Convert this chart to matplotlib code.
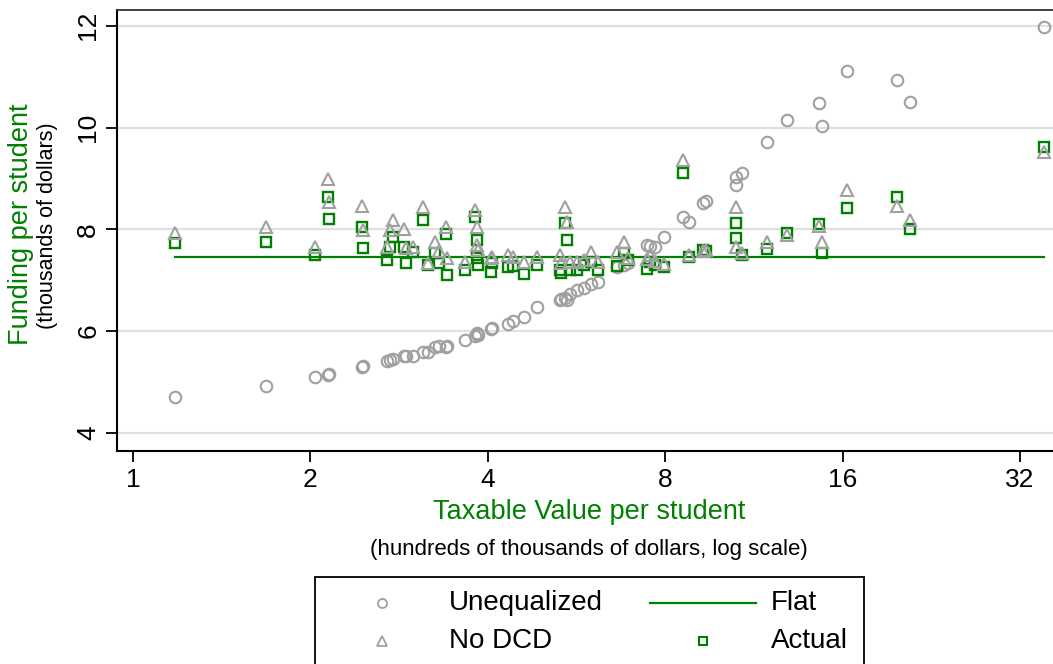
import matplotlib
matplotlib.use("Agg")
import matplotlib.pyplot as plt
from matplotlib.lines import Line2D
from matplotlib.patches import Rectangle
import numpy as np

plt.rcParams['font.family'] = ['Liberation Sans', 'DejaVu Sans']

# ---- data (taxable value per student, hundreds of thousands $) ----
taxable_value = [1.18, 1.68, 2.04, 2.14, 2.15, 2.45, 2.46, 2.70, 2.73, 2.76,
                 2.88, 2.90, 2.99, 3.10, 3.16, 3.26, 3.31, 3.40, 3.41, 3.66,
                 3.81, 3.83, 3.84, 3.85, 4.05, 4.07, 4.33, 4.42, 4.60, 4.84,
                 5.31, 5.33, 5.40, 5.45, 5.52, 5.67, 5.82, 5.98, 6.15, 6.63,
                 6.80, 6.92, 7.45, 7.54, 7.69, 7.96, 8.58, 8.78, 9.27, 9.38,
                 10.55, 10.56, 10.80, 11.91, 12.88, 14.59, 14.76, 16.28, 19.79, 20.82,
                 35.14]
# funding per student, thousands of dollars
unequalized = [4.71, 4.92, 5.10, 5.14, 5.16, 5.30, 5.31, 5.41, 5.43, 5.45,
               5.51, 5.52, 5.51, 5.59, 5.59, 5.69, 5.71, 5.69, 5.70, 5.83,
               5.91, 5.94, 5.96, 5.93, 6.04, 6.06, 6.14, 6.20, 6.28, 6.48,
               6.61, 6.63, 6.65, 6.61, 6.73, 6.81, 6.85, 6.93, 6.97, 7.26,
               7.30, 7.34, 7.69, 7.67, 7.65, 7.85, 8.24, 8.15, 8.52, 8.56,
               8.87, 9.03, 9.11, 9.72, 10.15, 10.48, 10.03, 11.11, 10.94, 10.50,
               11.98]
no_dcd = [7.93, 8.05, 7.65, 8.99, 8.54, 8.46, 7.99, 7.65, 7.99, 8.18,
          8.01, 7.63, 7.65, 8.44, 7.34, 7.75, 7.58, 8.05, 7.44, 7.36,
          8.38, 8.05, 7.69, 7.60, 7.44, 7.46, 7.50, 7.46, 7.36, 7.46,
          7.50, 7.34, 8.44, 8.15, 7.36, 7.36, 7.40, 7.56, 7.36, 7.56,
          7.75, 7.44, 7.42, 7.50, 7.38, 7.32, 9.36, 7.50, 7.58, 7.60,
          8.44, 7.65, 7.54, 7.75, 7.89, 8.07, 7.75, 8.77, 8.46, 8.18,
          9.52]
actual = [7.73, 7.75, 7.50, 8.64, 8.20, 8.05, 7.63, 7.40, 7.65, 7.85,
          7.65, 7.34, 7.56, 8.18, 7.30, 7.54, 7.34, 7.91, 7.10, 7.20,
          8.24, 7.79, 7.44, 7.30, 7.16, 7.34, 7.26, 7.28, 7.12, 7.30,
          7.20, 7.14, 8.13, 7.79, 7.20, 7.20, 7.30, 7.36, 7.20, 7.28,
          7.54, 7.40, 7.22, 7.36, 7.30, 7.26, 9.11, 7.46, 7.60, 7.58,
          8.13, 7.83, 7.50, 7.62, 7.93, 8.10, 7.54, 8.42, 8.64, 8.01,
          9.62]
flat_level = 7.46

x_ticks = [1, 2, 4, 8, 16, 32]
y_ticks = [4, 6, 8, 10, 12]

GREEN = '#008000'
GRAY = '#a0a0a0'

W, H = 1053, 664
fig = plt.figure(figsize=(W / 100, H / 100), dpi=100)

def fx(px):
    return px / W

def fy(py):
    return 1 - py / H

ax = fig.add_axes([fx(117), fy(451), fx(1060) - fx(117), fy(10) - fy(451)])

ax.set_xscale('log', base=2)
ax.set_xlim(0.9394, 37.4)
ax.set_ylim(3.646, 12.31)

for yv in y_ticks:
    ax.axhline(yv, color='#e0e0e0', lw=1.6, zorder=0)

ax.plot(taxable_value, unequalized, linestyle='none', marker='o', ms=8.3,
        mfc='none', mec=GRAY, mew=1.5, zorder=2)
ax.plot([min(taxable_value), max(taxable_value)], [flat_level, flat_level],
        color=GREEN, lw=1.6, zorder=3)
ax.plot(taxable_value, actual, linestyle='none', marker='s', ms=7.8,
        mfc='none', mec=GREEN, mew=1.7, zorder=4)
ax.plot(taxable_value, no_dcd, linestyle='none', marker='^', ms=9.3,
        mfc='none', mec=GRAY, mew=1.5, zorder=5)

ax.set_xticks(x_ticks)
ax.set_xticklabels([str(t) for t in x_ticks])
ax.xaxis.set_minor_locator(matplotlib.ticker.NullLocator())
ax.set_yticks(y_ticks)
ax.set_yticklabels([str(t) for t in y_ticks], rotation=90, va='center')
ax.tick_params(axis='both', which='major', length=8, width=1.3, color='black',
               labelsize=19, pad=4)

for side in ['left', 'bottom']:
    ax.spines[side].set_linewidth(1.5)
    ax.spines[side].set_color('black')
ax.spines['top'].set_linewidth(1.3)
ax.spines['top'].set_color('#333333')
ax.spines['right'].set_visible(False)

# axis titles
fig.text(fx(21), fy(224), 'Funding per student', color=GREEN, fontsize=19.5,
         rotation=90, ha='center', va='center')
fig.text(fx(48), fy(226), '(thousands of dollars)', color='black', fontsize=15.5,
         rotation=90, ha='center', va='center')
fig.text(fx(589), fy(512), 'Taxable Value per student', color=GREEN, fontsize=19.5,
         ha='center', va='center')
fig.text(fx(589), fy(549), '(hundreds of thousands of dollars, log scale)',
         color='black', fontsize=16, ha='center', va='center')

# legend (manual, partially cropped as in reference)
fig.add_artist(Rectangle((fx(315), fy(700)), fx(864) - fx(315), fy(577) - fy(700),
                         transform=fig.transFigure, fill=False, ec='black', lw=1.3))
row1, row2 = 603, 641
fig.add_artist(Line2D([fx(382)], [fy(row1)], transform=fig.transFigure, marker='o',
                      ms=6.5, mfc='none', mec=GRAY, mew=1.3, linestyle='none'))
fig.add_artist(Line2D([fx(382)], [fy(row2)], transform=fig.transFigure, marker='^',
                      ms=7, mfc='none', mec=GRAY, mew=1.3, linestyle='none'))
fig.add_artist(Line2D([fx(650), fx(756)], [fy(row1), fy(row1)], transform=fig.transFigure,
                      color=GREEN, lw=1.6))
fig.add_artist(Line2D([fx(703)], [fy(row2)], transform=fig.transFigure, marker='s',
                      ms=6, mfc='none', mec=GREEN, mew=1.5, linestyle='none'))
fig.text(fx(449), fy(row1), 'Unequalized', fontsize=20, ha='left', va='center')
fig.text(fx(449), fy(row2), 'No DCD', fontsize=20, ha='left', va='center')
fig.text(fx(771), fy(row1), 'Flat', fontsize=20, ha='left', va='center')
fig.text(fx(771), fy(row2), 'Actual', fontsize=20, ha='left', va='center')

fig.savefig('out.png', dpi=100)
